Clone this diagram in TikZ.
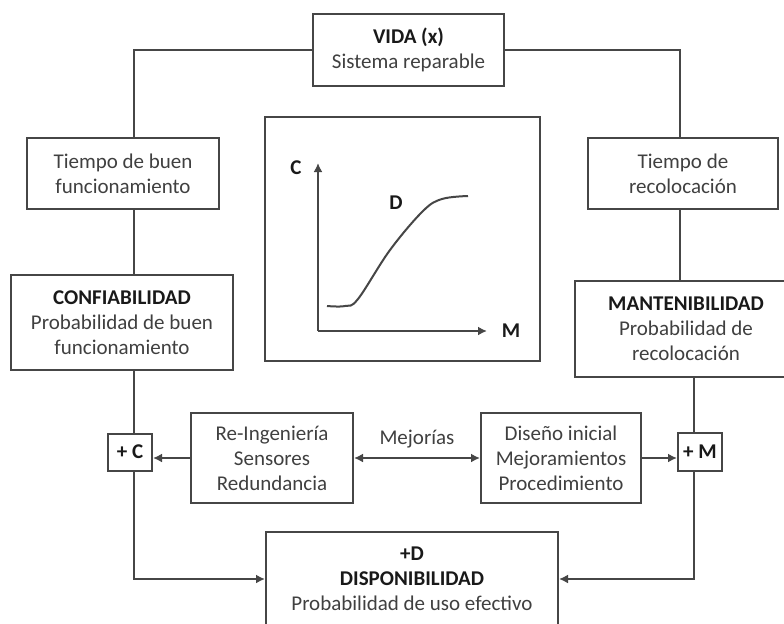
\documentclass[tikz,border=0pt]{standalone}
\usepackage{fontspec}
\setmainfont{Carlito}
\usetikzlibrary{positioning,arrows.meta}
\definecolor{linec}{RGB}{70,70,70}
\definecolor{textc}{RGB}{64,64,64}
\definecolor{headc}{RGB}{25,25,25}
\newcommand{\hd}[1]{{\bfseries\color{headc}#1}}

\begin{document}
\begin{tikzpicture}[x=0.5pt,y=-0.5pt,
    box/.style={draw=linec, line width=1pt, fill=white, align=center, inner sep=0pt,
                text=textc, font=\fontsize{10.5}{12.5}\selectfont},
    conn/.style={draw=linec, line width=1pt},
    arr/.style={conn, -{Latex[length=4.5pt,width=4.5pt]}},
    lbl/.style={font=\bfseries\fontsize{10.5}{12.5}\selectfont, text=headc}]
    \clip (0,0) rectangle (784,623);
    \fill[white] (0,0) rectangle (784,623);
    % columns of the side connectors
    \coordinate (lx) at (134,0);
    \coordinate (rx) at (680,0);
    \coordinate (rxb) at (694,0);

    \node[box, minimum width=95.5pt, minimum height=36pt] (vida) at (408.5,50)
        {\hd{VIDA (x)}\\Sistema reparable};
    \node[box, minimum width=96pt, minimum height=35.5pt] (tleft) at (123,173.5)
        {Tiempo de buen\\funcionamiento};
    \node[box, minimum width=95pt, minimum height=35.5pt] (tright) at (683,173.5)
        {Tiempo de\\recolocación};
    \node[box, minimum width=137.5pt, minimum height=122pt] (graph) at (402.5,239) {};
    \node[box, minimum width=111pt, minimum height=47.5pt] (conf) at (122,322.5)
        {\hd{CONFIABILIDAD}\\Probabilidad de buen\\funcionamiento};
    \node[box, minimum width=111pt, minimum height=48pt] (mant) at (686,329)
        {\hd{MANTENIBILIDAD}\\Probabilidad de\\recolocación};
    \node[box, minimum width=22pt, minimum height=18.5pt] (cplus) at (130,452) {\hd{+ C}};
    \node[box, minimum width=81pt, minimum height=45pt] (reing) at (272,458)
        {Re-Ingeniería\\Sensores\\Redundancia};
    \node[box, minimum width=80pt, minimum height=45pt] (diseno) at (561,458)
        {Diseño inicial\\Mejoramientos\\Procedimiento};
    \node[box, minimum width=22pt, minimum height=19pt] (mplus) at (700,452) {\hd{+ M}};
    \node[box, minimum width=146pt, minimum height=47pt] (disp) at (412,579)
        {\hd{+D}\\\hd{DISPONIBILIDAD}\\Probabilidad de uso efectivo};

    % left branch
    \draw[conn] (vida.west) -| (lx |- tleft.north);
    \draw[conn] (lx |- tleft.south) -- (lx |- conf.north);
    \draw[conn] (lx |- conf.south) -- (lx |- cplus.north);
    \draw[arr] (lx |- cplus.south) |- (disp.west);
    % right branch
    \draw[conn] (vida.east) -| (rx |- tright.north);
    \draw[conn] (rx |- tright.south) -- (rx |- mant.north);
    \draw[conn] (rxb |- mant.south) -- (rxb |- mplus.north);
    \draw[arr] (rxb |- mplus.south) |- (disp.east);
    % improvements row
    \draw[arr] (reing.west) -- (reing.west -| cplus.east);
    \draw[arr, {Latex[length=4.5pt,width=4.5pt]}-{Latex[length=4.5pt,width=4.5pt]}]
        (reing.east) -- (diseno.west)
        node[midway, above=1pt, text=textc, font=\fontsize{10.5}{12.5}\selectfont] (mej) {Mejorías};
    \draw[arr] (diseno.east) -- (diseno.east -| mplus.west);

    % small plot inside the frame
    \coordinate (org) at (318,331);
    \draw[arr] (org) -- (318,163);
    \draw[arr] (org) -- (487,331);
    \node[lbl] (cax) at (296,168) {C};
    \node[lbl] (max) at (511,331) {M};
    \node[lbl] (dlab) at (396,203) {D};
    \draw[conn] plot[smooth, tension=0.6] coordinates
        {(327,306) (345,306) (358,299) (390,250) (423,211) (442,199) (468,196)};
\end{tikzpicture}
\end{document}
